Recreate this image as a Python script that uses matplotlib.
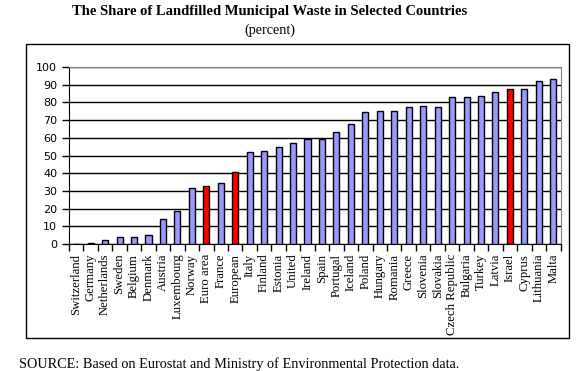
import matplotlib.pyplot as plt
import numpy as np
from matplotlib.patches import Rectangle

countries = ['Switzerland', 'Germany', 'Netherlands', 'Sweden', 'Belgium', 'Denmark',
             'Austria', 'Luxembourg', 'Norway', 'Euro area', 'France', 'European',
             'Italy', 'Finland', 'Estonia', 'United', 'Ireland', 'Spain', 'Portugal',
             'Iceland', 'Poland', 'Hungary', 'Romania', 'Greece', 'Slovenia', 'Slovakia',
             'Czech Republic', 'Bulgaria', 'Turkey', 'Latvia', 'Israel', 'Cyprus',
             'Lithuania', 'Malta']
share = [0, 0.6, 2.1, 3.8, 3.8, 4.9, 13.9, 18.5, 31.4, 32.6, 34.3, 40.5,
         51.8, 52.4, 54.6, 56.9, 59.3, 59.1, 63.3, 67.6, 74.4, 75.0, 75.0, 77.2,
         77.8, 77.6, 82.9, 82.9, 83.4, 85.7, 87.4, 87.4, 91.9, 93.0]
highlight = ['Euro area', 'European', 'Israel']

serif = ['Liberation Serif', 'DejaVu Serif']

fig = plt.figure(figsize=(5.78, 3.71), dpi=100)
ax = fig.add_axes([69 / 578, 1 - 244 / 371, (560.5 - 69) / 578, (244 - 67) / 371])

# outer chart frame
fig.patches.append(Rectangle((26 / 578, 1 - 338 / 371), (569 - 26) / 578, (338 - 44) / 371,
                             transform=fig.transFigure, fill=False, edgecolor='black', lw=1))

x = np.arange(len(countries))
colors = ['#ff0000' if c in highlight else '#9999ff' for c in countries]
ax.bar(x, share, width=0.42, color=colors, edgecolor='black', linewidth=1, zorder=3)

ax.set_xlim(-0.5, len(countries) - 0.5)
ax.set_ylim(0, 100)
ax.set_yticks(np.arange(0, 101, 10))
ax.yaxis.grid(True, color='black', lw=1, zorder=0)
ax.set_axisbelow(True)

ax.set_xticks(x)
ax.set_xticklabels(countries, rotation=90, family=serif, fontsize=9.2)
ax.set_xticks(np.arange(-0.5, len(countries)), minor=True)
ax.tick_params(axis='x', which='major', length=0, pad=7)
ax.tick_params(axis='x', which='minor', length=5, width=1, direction='out')
ax.tick_params(axis='y', length=5, width=1, labelsize=8)

for s in ['top', 'right']:
    ax.spines[s].set_color('#808080')
for s in ['left', 'bottom']:
    ax.spines[s].set_color('black')

fig.text(270 / 578, 1 - 11 / 371, 'The Share of Landfilled Municipal Waste in Selected Countries',
         ha='center', va='center', family=serif, fontweight='bold', fontsize=10.5)
fig.text(270 / 578, 1 - 30 / 371, '(percent)', ha='center', va='center', family=serif, fontsize=10.3)
fig.text(19 / 578, 1 - 364 / 371, 'SOURCE: Based on Eurostat and Ministry of Environmental Protection data.',
         ha='left', va='center', family=serif, fontsize=10.3)

fig.savefig('out.png', dpi=100)
